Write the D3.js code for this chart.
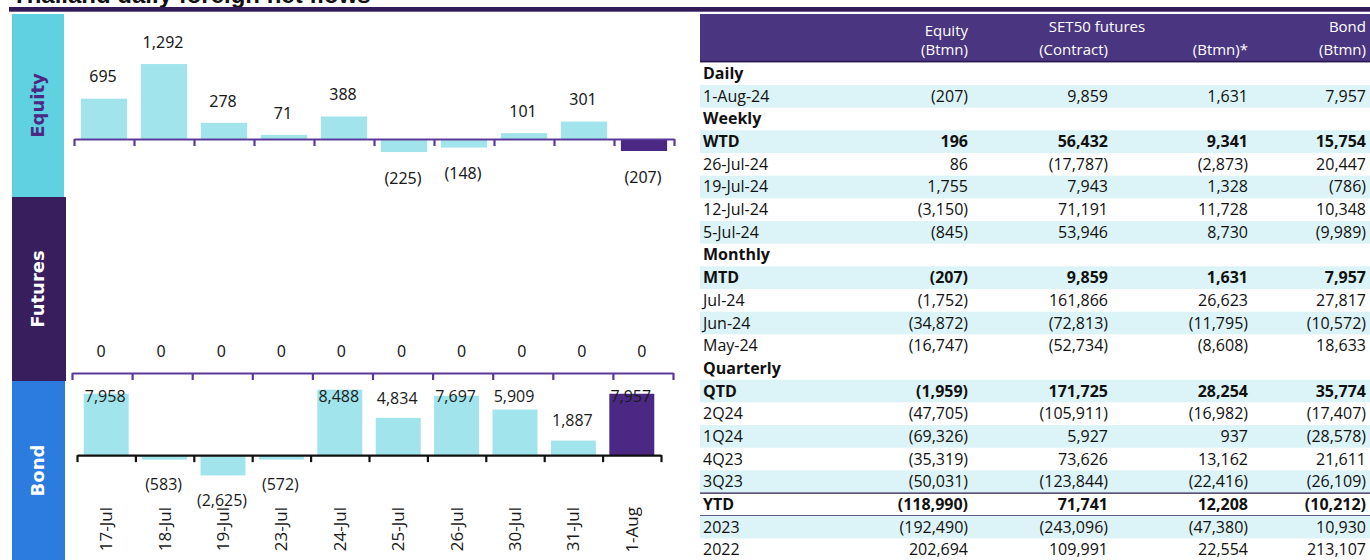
<!doctype html>
<html>
<head>
<meta charset="utf-8">
<title>Thailand daily foreign net flows</title>
<script src="https://cdn.jsdelivr.net/npm/d3@7"></script>
<style>
  body { margin: 0; background: #fff; }
  svg text { font-family: "Open Sans", "Noto Sans", sans-serif; }
</style>
</head>
<body>
<div id="chart"></div>
<script>

// ---- chart data ----
var dates = ["17-Jul", "18-Jul", "19-Jul", "23-Jul", "24-Jul", "25-Jul", "26-Jul", "30-Jul", "31-Jul", "1-Aug"];
var equity = [695, 1292, 278, 71, 388, -225, -148, 101, 301, -207];
var futures = [0, 0, 0, 0, 0, 0, 0, 0, 0, 0];
var bond = [7958, -583, -2625, -572, 8488, 4834, 7697, 5909, 1887, 7957];

// ---- table data (null = section header row) ----
var rowLabels = ["Daily", "1-Aug-24", "Weekly", "WTD", "26-Jul-24", "19-Jul-24", "12-Jul-24", "5-Jul-24",
  "Monthly", "MTD", "Jul-24", "Jun-24", "May-24", "Quarterly", "QTD", "2Q24", "1Q24", "4Q23", "3Q23",
  "YTD", "2023", "2022"];
var equityCol = [null, -207, null, 196, 86, 1755, -3150, -845, null, -207, -1752, -34872, -16747,
  null, -1959, -47705, -69326, -35319, -50031, -118990, -192490, 202694];
var contractCol = [null, 9859, null, 56432, -17787, 7943, 71191, 53946, null, 9859, 161866, -72813, -52734,
  null, 171725, -105911, 5927, 73626, -123844, 71741, -243096, 109991];
var futBtmnCol = [null, 1631, null, 9341, -2873, 1328, 11728, 8730, null, 1631, 26623, -11795, -8608,
  null, 28254, -16982, 937, 13162, -22416, 12208, -47380, 22554];
var bondCol = [null, 7957, null, 15754, 20447, -786, 10348, -9989, null, 7957, 27817, -10572, 18633,
  null, 35774, -17407, -28578, 21611, -26109, -10212, 10930, 213107];
var totalRows = ["WTD", "MTD", "QTD", "YTD"];
var headLine1 = ["Equity", "SET50 futures", "", "Bond"];
var headLine2 = ["(Btmn)", "(Contract)", "(Btmn)*", "(Btmn)"];

var W = 1370, H = 560;
var purple = "#4b2883", lightBar = "#a1e4ec";

var svg = d3.select("#chart").append("svg")
  .attr("width", W)
  .attr("height", H);

var fmt = d3.format(",");
function acct(v) { return v < 0 ? "(" + fmt(-v) + ")" : fmt(v); }

// title + rule
svg.append("text")
  .attr("x", 12).attr("y", 3)
  .style("font-family", "'Liberation Sans', Arial, sans-serif")
  .style("font-weight", "bold")
  .style("font-size", "24px")
  .attr("fill", "#111")
  .text("Thailand daily foreign net flows");
svg.append("rect")
  .attr("x", 9).attr("y", 7).attr("width", W - 9).attr("height", 4.7)
  .attr("fill", "#321a57");

// side labels
var panels = [
  {name: "Equity", y0: 14, y1: 197, x1: 64, fill: "#5fd1e1", text: purple},
  {name: "Futures", y0: 197, y1: 381, x1: 66, fill: "#391e5e", text: "#fff"},
  {name: "Bond", y0: 381, y1: 560, x1: 65, fill: "#2b7cde", text: "#fff"}
];
panels.forEach(function(p) {
  svg.append("rect")
    .attr("x", 12).attr("y", p.y0)
    .attr("width", p.x1 - 12).attr("height", p.y1 - p.y0)
    .attr("fill", p.fill);
  var cy = (p.y0 + p.y1) / 2;
  svg.append("text")
    .attr("transform", "translate(38," + cy + ") rotate(-90)")
    .attr("text-anchor", "middle")
    .attr("dy", "0.36em")
    .style("font-family", "'DejaVu Sans', sans-serif")
    .style("font-weight", "bold")
    .style("font-size", "18px")
    .attr("fill", p.text)
    .text(p.name);
});

// one panel of bars
function drawPanel(values, opt) {
  var x = d3.scaleBand().domain(dates).range(opt.xr).paddingInner(0.23).paddingOuter(0.115);
  var y = d3.scaleLinear().domain(opt.domain).range(opt.yr);
  var y0 = y(0);
  var g = svg.append("g");

  g.selectAll("rect.bar")
    .data(values)
    .enter().append("rect")
    .attr("class", "bar")
    .attr("x", function(d, i) { return x(dates[i]); })
    .attr("width", x.bandwidth())
    .attr("y", function(d) { return Math.min(y(d), y0); })
    .attr("height", function(d) { return Math.abs(y(d) - y0); })
    .attr("fill", function(d, i) { return i === values.length - 1 ? purple : lightBar; });

  // axis with ticks at band boundaries
  var edges = d3.scaleLinear().domain([0, dates.length]).range(opt.xr);
  var ax = g.append("g")
    .attr("transform", "translate(0," + y0 + ")")
    .call(d3.axisBottom(edges).ticks(dates.length).tickSize(7).tickSizeOuter(0).tickFormat(""));
  ax.selectAll("path, line").attr("stroke", opt.axisColor).attr("stroke-width", 2.2);

  g.selectAll("text.lab")
    .data(values)
    .enter().append("text")
    .attr("class", "lab")
    .attr("x", function(d, i) { return x(dates[i]) + x.bandwidth() / 2 - 1; })
    .attr("y", function(d) { return opt.labelY(d, y); })
    .attr("dy", "0.36em")
    .attr("text-anchor", "middle")
    .style("font-size", opt.fontSize)
    .style("font-family", opt.font)
    .attr("fill", "#1a1a1a")
    .text(acct);
  return x;
}

drawPanel(equity, {
  xr: [74, 674], yr: [197, 52], domain: [-1000, 1500], axisColor: "#5b3a99",
  fontSize: "16px", font: "'Noto Sans', sans-serif",
  labelY: function(d, y) { return d < 0 ? y(d) + 26 : y(d) - 22; }
});

drawPanel(futures, {
  xr: [72, 673], yr: [383, 363], domain: [-1, 1], axisColor: "#5b3a99",
  fontSize: "16px", font: "'Noto Sans', sans-serif",
  labelY: function(d, y) { return y(d) - 22; }
});

var xb = drawPanel(bond, {
  xr: [77, 661], yr: [486, 378], domain: [-4000, 10000], axisColor: "#111",
  fontSize: "16px", font: "'Open Sans', sans-serif",
  labelY: function(d, y) { return d < 0 ? y(d) + 25 : Math.max(y(d) - 20, 396); }
});

// date labels (rotated)
svg.selectAll("text.date")
  .data(dates)
  .enter().append("text")
  .attr("class", "date")
  .attr("transform", function(d) { return "translate(" + (xb(d) + xb.bandwidth() / 2 + 6) + ",507) rotate(-90)"; })
  .attr("text-anchor", "end")
  .style("font-size", "17px")
  .attr("fill", "#1a1a1a")
  .text(function(d) { return d; });

// ---- table ----
var colRight = [968, 1108, 1248, 1366];
var tx0 = 700, rowTop = 62.3, rowH = 22.67;
var t = svg.append("g").style("font-family", "Roboto, sans-serif");

t.append("rect")
  .attr("x", tx0).attr("y", 14).attr("width", W - tx0).attr("height", rowTop - 14)
  .attr("fill", "#4a3580");
t.append("line")
  .attr("x1", tx0).attr("x2", W).attr("y1", rowTop - 0.8).attr("y2", rowTop - 0.8)
  .attr("stroke", "#2c1a50").attr("stroke-width", 1.6);

t.selectAll("text.h1")
  .data(headLine1)
  .enter().append("text")
  .attr("x", function(d, i) { return i === 1 ? 1097 : colRight[i]; })
  .attr("y", function(d, i) { return i === 0 ? 36 : 32; })
  .attr("text-anchor", function(d, i) { return i === 1 ? "middle" : "end"; })
  .style("font-size", "15px")
  .attr("fill", "#fff")
  .text(function(d) { return d; });
t.selectAll("text.h2")
  .data(headLine2)
  .enter().append("text")
  .attr("x", function(d, i) { return colRight[i]; })
  .attr("y", 55)
  .attr("text-anchor", "end")
  .style("font-size", "15px")
  .attr("fill", "#fff")
  .text(function(d) { return d; });

// stripes: alternate within each section, starting shaded
var k = 0;
var shaded = rowLabels.map(function(r, i) {
  if (equityCol[i] === null) { k = 0; return false; }
  return (k++ % 2) === 0;
});

rowLabels.forEach(function(label, i) {
  var top = rowTop + i * rowH;
  var isHead = equityCol[i] === null;
  var bold = isHead || totalRows.indexOf(label) >= 0;
  if (shaded[i]) {
    t.append("rect").attr("x", tx0).attr("y", top).attr("width", W - tx0).attr("height", rowH)
      .attr("fill", "#dcf4f7");
  }
  var base = top + rowH / 2 + 5.5;
  t.append("text").attr("x", 703).attr("y", base)
    .style("font-size", "16px").style("font-weight", bold ? 700 : 400)
    .attr("fill", "#111").text(label);
  if (!isHead) {
    [equityCol, contractCol, futBtmnCol, bondCol].forEach(function(col, c) {
      t.append("text").attr("x", colRight[c]).attr("y", base)
        .attr("text-anchor", "end")
        .style("font-size", "16px").style("font-weight", bold ? 700 : 400)
        .attr("fill", "#111").text(acct(col[i]));
    });
  }
  if (label === "YTD") {
    [top, top + rowH].forEach(function(yy) {
      t.append("line").attr("x1", tx0).attr("x2", W).attr("y1", yy).attr("y2", yy)
        .attr("stroke", "#2a1a4f").attr("stroke-width", 1.2);
    });
  }
});
</script>
</body>
</html>
